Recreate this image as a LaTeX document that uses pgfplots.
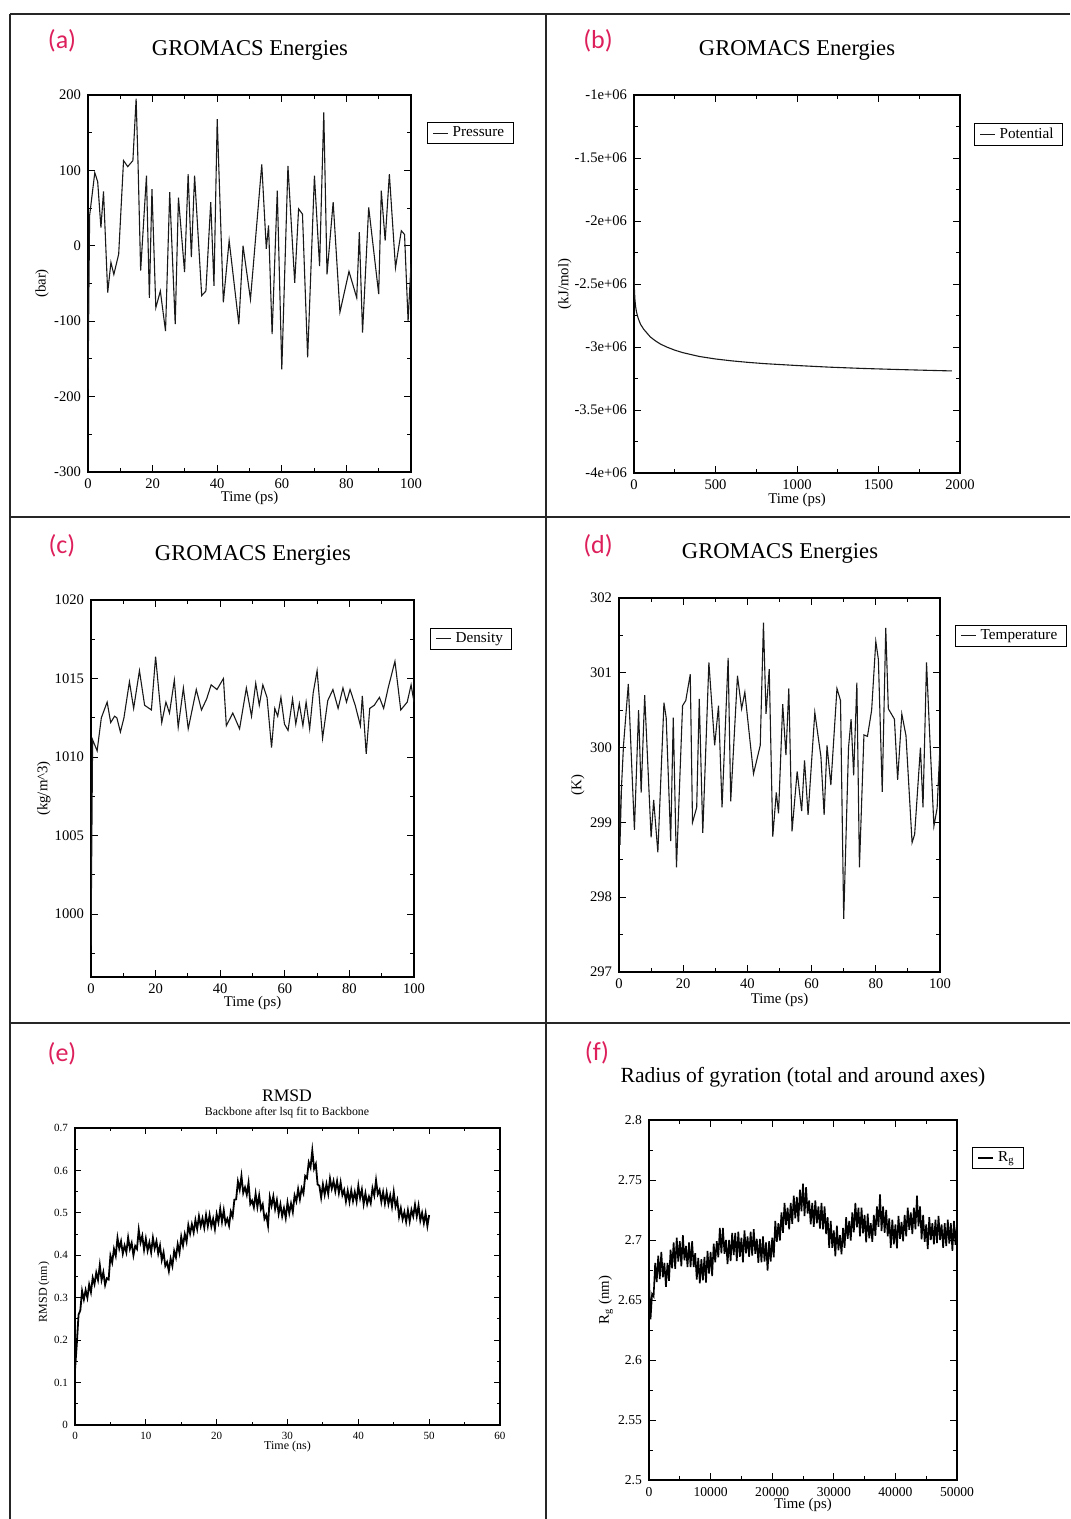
\documentclass[border=0pt]{standalone}
\usepackage{pgfplots}
\pgfplotsset{compat=1.18}
\usepackage{fontspec}
\setmainfont{Liberation Serif}
\newfontfamily\labfont{Carlito}
\definecolor{pnk}{RGB}{221,32,92}
\newcommand\tk{\fontsize{7.3}{8}\selectfont}
\newcommand\lb{\fontsize{7.4}{8.5}\selectfont}
\newcommand\lgd{\fontsize{7.6}{8.5}\selectfont}
\newcommand\ttl{\fontsize{11.3}{13}\selectfont}
\newcommand\pl{\labfont\fontsize{13}{15}\selectfont\color{pnk}}

\pgfplotsset{
  gro/.style={
    scale only axis, anchor=south west,
    axis line style={line width=0.6pt},
    tick style={line width=0.5pt, black},
    tick align=inside,
    major tick length=3.5pt, minor tick length=1.8pt,
    ticklabel style={font=\tk},
    label style={font=\lb},
    scaled ticks=false,
    /pgf/number format/1000 sep={},
    /pgf/number format/assume math mode=true,
    minor x tick num=1, minor y tick num=1,
    legend style={draw=black, line width=0.5pt, font=\lgd, anchor=north west,
      inner xsep=2.5pt, inner ysep=0pt},
    legend cell align=left,
    legend image code/.code={%
      \draw[line width=0.5pt] (0.5pt,0pt) -- (4pt,0pt);
      \path (0pt,0pt) -- (7.5pt,0pt);},
    xlabel style={anchor=center},
    ylabel style={anchor=center},
  },
  trace/.style={black!90, line width=0.55pt, no marks},
}

\begin{document}
\begin{tikzpicture}
\useasboundingbox (0pt,0pt) rectangle (535pt,-759.5pt);

% panel frame lines
\draw[line width=1.1pt, black!85] (5pt,-7pt) -- (535pt,-7pt);
\draw[line width=1.1pt, black!85] (5pt,-7pt) -- (5pt,-759.5pt);
\draw[line width=1.1pt, black!85] (273pt,-7pt) -- (273pt,-759.5pt);
\draw[line width=1.1pt, black!85] (5pt,-258.5pt) -- (535pt,-258.5pt);
\draw[line width=1.1pt, black!85] (5pt,-511.5pt) -- (535pt,-511.5pt);

% (a) pressure
\begin{axis}[gro, at={(44pt,-236pt)}, width=161.5pt, height=188.5pt,
  xmin=0, xmax=100, ymin=-300, ymax=200,
  xtick={0,20,...,100}, ytick={-300,-200,...,200},
  xlabel={Time (ps)}, ylabel={(bar)},
  xlabel style={at={(axis description cs:0.5,-0.069)}},
  ylabel style={at={(axis description cs:-0.142,0.5)}},
  legend style={at={(1.0495,0.928)}}]
\addplot[trace] coordinates {
(0,-190) (0.5,40) (2.1,97) (3,85) (4,24) (4.8,72) (6.1,-62) (7.1,-22) (8,-38)
(9.5,-11) (11,113) (12.3,105) (13.9,113) (14.9,195) (15.5,108) (16.3,-33)
(18.1,93) (19,-69) (19.8,75) (21,-82) (22.4,-60) (24,-113) (25.3,71) (27,-104)
(28,64) (29.9,-35) (31,95) (32,-15) (33,93) (35.2,-66) (36.5,-60) (38,58)
(39,-53) (40,168) (41.9,-75) (43.7,7) (46.7,-104) (48,0) (50.3,-71) (53.8,108)
(55.2,-4) (55.9,27) (57,-117) (58.6,73) (60,-164) (61.9,106) (64,-49) (65.2,49)
(66.4,42) (68,-148) (70.1,93) (71.7,-27) (72.5,100) (73,177) (74,-38) (75.9,58)
(78,-88) (80.8,-34) (83.2,-69) (84,18) (85,-115) (86.9,51) (90,-64) (90.8,73)
(92,7) (93.3,95) (95.2,-29) (97,20) (98,15) (99.1,-100) (100,-24)
};
\addlegendentry{Pressure}
\end{axis}

% (b) potential
\begin{axis}[gro, at={(317pt,-236.5pt)}, width=163pt, height=189pt,
  xmin=0, xmax=2000, ymin=-4000000, ymax=-1000000,
  xtick={0,500,...,2000},
  ytick={-4000000,-3500000,-3000000,-2500000,-2000000,-1500000,-1000000},
  yticklabels={-4e+06,-3.5e+06,-3e+06,-2.5e+06,-2e+06,-1.5e+06,-1e+06},
  xlabel={Time (ps)}, ylabel={(kJ/mol)},
  xlabel style={at={(axis description cs:0.5,-0.071)}},
  ylabel style={at={(axis description cs:-0.212,0.5)}},
  legend style={at={(1.043,0.926)}}]
\addplot[trace] coordinates {
(0,-2280000) (1,-2450000) (3,-2560000) (6,-2630000) (10,-2680000)
(15,-2720000) (25,-2770000) (40,-2820000) (60,-2860000) (80,-2890000)
(100,-2920000) (130,-2950000) (160,-2975000) (200,-3000000) (250,-3025000)
(300,-3045000) (400,-3075000) (500,-3095000) (600,-3110000) (700,-3122000)
(800,-3132000) (1000,-3147000) (1200,-3160000) (1400,-3170000)
(1600,-3178000) (1800,-3185000) (1950,-3190000)
};
\addlegendentry{Potential}
\end{axis}

% (c) density
\begin{axis}[gro, at={(45.5pt,-488.5pt)}, width=161.5pt, height=188.5pt,
  xmin=0, xmax=100, ymin=996, ymax=1020,
  xtick={0,20,...,100}, ytick={1000,1005,...,1020},
  minor y tick num=1, extra y ticks={997.5}, extra y tick labels={},
  extra y tick style={major tick length=1.8pt},
  xlabel={Time (ps)}, ylabel={(kg/m\^{}3)},
  xlabel style={at={(axis description cs:0.5,-0.069)}},
  ylabel style={at={(axis description cs:-0.146,0.5)}},
  legend style={at={(1.0495,0.926)}}]
\addplot[trace] coordinates {
(0,998) (0.5,1011.1) (1.9,1010.4) (3.2,1012.5) (5,1013.5) (6.1,1012.2)
(7.3,1012.6) (8,1012.5) (9.1,1011.6) (10.2,1012.5) (11.9,1014.8) (13.2,1013.1)
(15,1015.5) (16.6,1013.3) (18.7,1013.0) (20,1016.4) (21.9,1012.2) (23.2,1013.5)
(24.3,1012.8) (25.8,1014.9) (27,1011.9) (28.6,1014.4) (30.1,1011.8) (32.6,1014.3)
(34.2,1013.0) (35.8,1013.7) (37.2,1014.6) (39,1014.3) (41,1015.0) (41.9,1012.0)
(43.9,1012.8) (46,1011.8) (48.1,1014.4) (49.7,1012.6) (51,1014.7) (52.1,1013.3)
(53.2,1014.6) (54.5,1013.8) (55.9,1010.6) (56.9,1013.1) (57.8,1012.6) (58.8,1013.8)
(59.9,1012.1) (61,1011.7) (62.4,1013.7) (63.4,1012.1) (64.5,1013.4) (65.6,1012.0)
(66.6,1013.5) (67.7,1011.8) (68.8,1014.1) (70,1015.5) (71.7,1011.2) (73.3,1013.6)
(74.9,1014.3) (76.5,1013.1) (78,1014.4) (79.1,1013.5) (80.2,1014.3) (81.8,1013.3)
(83.4,1012.0) (84,1013.9) (85.2,1010.2) (86.3,1013.1) (87.7,1013.3) (89.3,1013.8)
(90.6,1013.1) (92,1014.4) (94.1,1016.1) (95.9,1013.0) (97.9,1013.5) (99.1,1014.6)
(100,1013.5)
};
\addlegendentry{Density}
\end{axis}

% (d) temperature
\begin{axis}[gro, at={(309.5pt,-486pt)}, width=160.5pt, height=187pt,
  xmin=0, xmax=100, ymin=297, ymax=302,
  xtick={0,20,...,100}, ytick={297,298,...,302},
  xlabel={Time (ps)}, ylabel={(K)},
  xlabel style={at={(axis description cs:0.5,-0.075)}},
  ylabel style={at={(axis description cs:-0.128,0.5)}},
  legend style={at={(1.047,0.928)}}]
\addplot[trace] coordinates {
(0,300.03) (0.3,298.7) (0.8,299.5) (1.4,300.03) (2.9,300.85) (4.8,298.9)
(6.1,300.5) (6.9,299.4) (8,300.7) (10,298.8) (10.8,299.3) (12.1,298.6)
(14,300.6) (14.7,300.4) (16.1,298.75) (16.9,300.4) (17.9,298.4) (19.8,300.56)
(20.8,300.63) (22.2,300.98) (22.9,299.0) (24.2,299.2) (25,300.65) (26.1,298.86)
(28,301.14) (29.8,300.03) (31,300.56) (32.1,299.2) (34,301.2) (34.8,299.28)
(36.9,300.96) (38.2,300.52) (39.2,300.74) (41.9,299.65) (44,300.03) (45,301.67)
(45.8,300.45) (46.8,301.05) (47.9,298.81) (49,299.4) (49.7,299.12) (51,300.58)
(52,299.9) (52.9,300.79) (53.9,298.88) (55.5,299.68) (56.9,299.15) (57.8,299.83)
(58.9,299.1) (61,300.47) (62.9,299.88) (63.9,299.1) (64.8,300.03) (66,299.5)
(67.9,300.79) (69,300.63) (70,297.71) (71.5,300.0) (72.3,300.38) (73.1,299.63)
(74.1,300.87) (74.9,298.4) (76.3,300.17) (77.4,300.15) (78.7,300.5) (80,301.42)
(80.8,301.18) (82,299.41) (83.1,301.6) (83.9,300.52) (85.8,300.38) (86.8,299.57)
(88.1,300.45) (89.4,300.16) (91.3,298.73) (92.1,298.84) (93.9,300.0) (94.7,299.2)
(95.8,301.14) (96.7,300.25) (98.1,298.95) (99.1,299.19) (100,300.03)
};
\addlegendentry{Temperature}
\end{axis}

% (e) RMSD
\begin{axis}[gro, at={(37.5pt,-712.5pt)}, width=212.5pt, height=148.5pt,
  xmin=0, xmax=60, ymin=0, ymax=0.7,
  xtick={0,10,...,60}, ytick={0,0.1,...,0.7},
  ticklabel style={font=\fontsize{5.5}{6}\selectfont},
  label style={font=\fontsize{6}{7}\selectfont},
  major tick length=3pt, minor tick length=1.6pt,
  xlabel={Time (ns)}, ylabel={RMSD (nm)},
  xlabel style={at={(axis description cs:0.5,-0.074)}},
  ylabel style={at={(axis description cs:-0.073,0.448)}}]
\addplot[black, line width=0.9pt, no marks] coordinates {
(0,0.13) (0.25,0.19) (0.5,0.26) (0.75,0.27) (1,0.316) (1.25,0.296) (1.5,0.318)
(1.75,0.300) (2,0.331) (2.25,0.313) (2.5,0.347) (2.75,0.332) (3,0.359) (3.25,0.342)
(3.5,0.377) (3.75,0.342) (4,0.36) (4.25,0.33) (4.5,0.346) (4.75,0.343) (5,0.399)
(5.25,0.383) (5.5,0.415) (5.75,0.399) (6,0.441) (6.25,0.416) (6.5,0.433) (6.75,0.404)
(7,0.423) (7.25,0.407) (7.5,0.442) (7.75,0.415) (8,0.429) (8.25,0.40) (8.5,0.422)
(8.75,0.415) (9,0.46) (9.25,0.43) (9.5,0.446) (9.75,0.413) (10,0.439) (10.25,0.411)
(10.5,0.43) (10.75,0.407) (11,0.441) (11.25,0.416) (11.5,0.433) (11.75,0.404)
(12,0.423) (12.25,0.389) (12.5,0.407) (12.75,0.375) (13,0.384) (13.25,0.363)
(13.5,0.392) (13.75,0.375) (14,0.41) (14.25,0.395) (14.5,0.426) (14.75,0.406)
(15,0.444) (15.25,0.423) (15.5,0.45) (15.75,0.432) (16,0.471) (16.25,0.451)
(16.5,0.473) (16.75,0.454) (17,0.483) (17.25,0.462) (17.5,0.492) (17.75,0.469)
(18,0.487) (18.25,0.465) (18.5,0.495) (18.75,0.469) (19,0.495) (19.25,0.468)
(19.5,0.486) (19.75,0.462) (20,0.497) (20.25,0.478) (20.5,0.51) (20.75,0.479)
(21,0.506) (21.25,0.475) (21.5,0.486) (21.75,0.47) (22,0.503) (22.25,0.491)
(22.5,0.531) (22.75,0.532) (23,0.574) (23.25,0.555) (23.5,0.587) (23.75,0.547)
(24,0.56) (24.25,0.543) (24.5,0.571) (24.75,0.521) (25,0.529) (25.25,0.513)
(25.5,0.545) (25.75,0.514) (26,0.541) (26.25,0.509) (26.5,0.52) (26.75,0.486)
(27,0.495) (27.25,0.47) (27.5,0.537) (27.75,0.517) (28,0.539) (28.25,0.509)
(28.5,0.53) (28.75,0.498) (29,0.52) (29.25,0.492) (29.5,0.511) (29.75,0.488)
(30,0.524) (30.25,0.499) (30.5,0.522) (30.75,0.502) (31,0.541) (31.25,0.527)
(31.5,0.556) (31.75,0.532) (32,0.558) (32.25,0.546) (32.5,0.587) (32.75,0.582)
(33,0.619) (33.25,0.607) (33.5,0.647) (33.75,0.604) (34,0.615) (34.25,0.567)
(34.5,0.564) (34.75,0.536) (35,0.567) (35.25,0.543) (35.5,0.568) (35.75,0.545)
(36,0.581) (36.25,0.557) (36.5,0.575) (36.75,0.551) (37,0.575) (37.25,0.547)
(37.5,0.572) (37.75,0.542) (38,0.554) (38.25,0.527) (38.5,0.552) (38.75,0.526)
(39,0.553) (39.25,0.528) (39.5,0.549) (39.75,0.527) (40,0.564) (40.25,0.535)
(40.5,0.555) (40.75,0.521) (41,0.546) (41.25,0.521) (41.5,0.538) (41.75,0.523)
(42,0.558) (42.25,0.541) (42.5,0.577) (42.75,0.544) (43,0.554) (43.25,0.526)
(43.5,0.549) (43.75,0.522) (44,0.548) (44.25,0.521) (44.5,0.541) (44.75,0.515)
(45,0.549) (45.25,0.515) (45.5,0.53) (45.75,0.491) (46,0.511) (46.25,0.485)
(46.5,0.502) (46.75,0.479) (47,0.506) (47.25,0.48) (47.5,0.507) (47.75,0.492)
(48,0.519) (48.25,0.492) (48.5,0.517) (48.75,0.482) (49,0.50) (49.25,0.476)
(49.5,0.499) (49.75,0.469) (50,0.495)
};
\end{axis}

% (f) radius of gyration
\begin{axis}[gro, at={(324.5pt,-740pt)}, width=154pt, height=180pt,
  xmin=0, xmax=50000, ymin=2.5, ymax=2.8,
  xtick={0,10000,...,50000}, ytick={2.5,2.55,...,2.8},
  yticklabels={2.5,2.55,2.6,2.65,2.7,2.75,2.8},
  ticklabel style={font=\fontsize{6.8}{7.5}\selectfont},
  xlabel={Time (ps)}, ylabel={R\textsubscript{g} (nm)},
  xlabel style={at={(axis description cs:0.5,-0.069)}},
  ylabel style={at={(axis description cs:-0.14,0.5)}},
  legend style={at={(1.049,0.925)}}]
\addplot[black, line width=0.8pt, no marks] coordinates {
(0,2.668) (250,2.634) (500,2.655) (750,2.653) (1000,2.681) (1250,2.665) (1500,2.687)
(1750,2.6675) (2000,2.69) (2250,2.669) (2500,2.681) (2750,2.661) (3000,2.681)
(3250,2.666) (3500,2.692) (3750,2.6765) (4000,2.698) (4250,2.676) (4500,2.702)
(4750,2.682) (5000,2.699) (5250,2.678) (5500,2.704) (5750,2.683) (6000,2.695)
(6250,2.6775) (6500,2.698) (6750,2.6775) (7000,2.699) (7250,2.6775) (7500,2.689)
(7750,2.667) (8000,2.685) (8250,2.664) (8500,2.684) (8750,2.6665) (9000,2.686)
(9250,2.6645) (9500,2.691) (9750,2.672) (10000,2.69) (10250,2.67) (10500,2.697)
(10750,2.6815) (11000,2.699) (11250,2.6855) (11500,2.71) (11750,2.689) (12000,2.71)
(12250,2.6885) (12500,2.70) (12750,2.68) (13000,2.70) (13250,2.6825) (13500,2.706)
(13750,2.6875) (14000,2.706) (14250,2.6825) (14500,2.707) (14750,2.686) (15000,2.702)
(15250,2.6815) (15500,2.708) (15750,2.689) (16000,2.703) (16250,2.686) (16500,2.707)
(16750,2.687) (17000,2.709) (17250,2.6885) (17500,2.701) (17750,2.681) (18000,2.701)
(18250,2.6815) (18500,2.703) (18750,2.682) (19000,2.698) (19250,2.6745) (19500,2.699)
(19750,2.682) (20000,2.702) (20250,2.6855) (20500,2.716) (20750,2.6985) (21000,2.714)
(21250,2.6995) (21500,2.723) (21750,2.706) (22000,2.731) (22250,2.7125) (22500,2.727)
(22750,2.709) (23000,2.731) (23250,2.7135) (23500,2.737) (23750,2.718) (24000,2.736)
(24250,2.715) (24500,2.742) (24750,2.724) (25000,2.747) (25250,2.72) (25500,2.744)
(25750,2.722) (26000,2.733) (26250,2.713) (26500,2.731) (26750,2.711) (27000,2.733)
(27250,2.714) (27500,2.728) (27750,2.7095) (28000,2.731) (28250,2.709) (28500,2.728)
(28750,2.705) (29000,2.719) (29250,2.6935) (29500,2.716) (29750,2.6935) (30000,2.708)
(30250,2.6865) (30500,2.712) (30750,2.6915) (31000,2.704) (31250,2.688) (31500,2.71)
(31750,2.6935) (32000,2.719) (32250,2.701) (32500,2.716) (32750,2.6995) (33000,2.723)
(33250,2.7065) (33500,2.731) (33750,2.7105) (34000,2.727) (34250,2.703) (34500,2.727)
(34750,2.7055) (35000,2.721) (35250,2.698) (35500,2.722) (35750,2.7015) (36000,2.714)
(36250,2.6985) (36500,2.721) (36750,2.7035) (37000,2.728) (37250,2.711) (37500,2.738)
(37750,2.7075) (38000,2.728) (38250,2.706) (38500,2.725) (38750,2.703) (39000,2.718)
(39250,2.6935) (39500,2.717) (39750,2.6965) (40000,2.713) (40250,2.693) (40500,2.72)
(40750,2.701) (41000,2.715) (41250,2.699) (41500,2.721) (41750,2.703) (42000,2.727)
(42250,2.7085) (42500,2.723) (42750,2.705) (43000,2.727) (43250,2.709) (43500,2.737)
(43750,2.7115) (44000,2.728) (44250,2.7005) (44500,2.721) (44750,2.6985) (45000,2.713)
(45250,2.6925) (45500,2.719) (45750,2.70) (46000,2.714) (46250,2.6965) (46500,2.717)
(46750,2.6975) (47000,2.72) (47250,2.70) (47500,2.713) (47750,2.6935) (48000,2.714)
(48250,2.695) (48500,2.717) (48750,2.697) (49000,2.714) (49250,2.691) (49500,2.716)
(49750,2.696) (50000,2.713)
};
\addlegendentry{R\textsubscript{g}}
\end{axis}

% titles and panel letters (positions in reference pixels)
\begin{scope}[x=0.5pt, y=-0.5pt]
\node[font=\ttl] at (250,50) {GROMACS Energies};
\node[font=\ttl] at (797,50) {GROMACS Energies};
\node[font=\ttl] at (253,555) {GROMACS Energies};
\node[font=\ttl] at (780,553) {GROMACS Energies};
\node[font=\fontsize{8.8}{10}\selectfont] at (287,1096) {RMSD};
\node[font=\fontsize{5.9}{7}\selectfont] at (287,1113) {Backbone after lsq fit to Backbone};
\node[font=\fontsize{10.8}{12}\selectfont] at (803,1077) {Radius of gyration (total and around axes)};
\node[font=\pl] at (62,41) {(a)};
\node[font=\pl] at (598,41) {(b)};
\node[font=\pl] at (62,546) {(c)};
\node[font=\pl] at (598,546) {(d)};
\node[font=\pl] at (62,1054) {(e)};
\node[font=\pl] at (597,1053) {(f)};
\end{scope}
\end{tikzpicture}
\end{document}
